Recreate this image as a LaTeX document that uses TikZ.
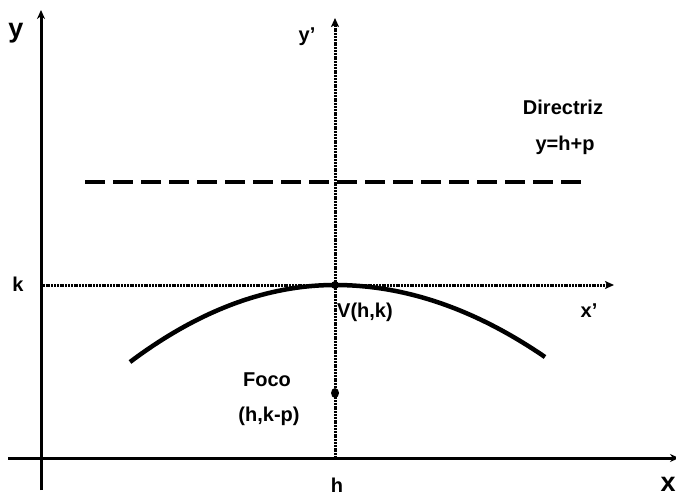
\documentclass[tikz,border=0pt]{standalone}
\usepackage{fontspec}
\setmainfont{Liberation Sans}
\usetikzlibrary{arrows.meta,shapes.geometric}
\begin{document}
\begin{tikzpicture}[x=1pt,y=-1pt,
  axis/.style={line width=3pt,-{Stealth[length=9pt,width=8pt]}},
  dotaxis/.style={line width=3pt,dash pattern=on 2pt off 0.8pt,-{Stealth[length=9pt,width=8pt,inset=2pt]}},
  dir/.style={line width=4pt,dash pattern=on 20pt off 8pt},
  curve/.style={line width=4.5pt},
  lbl/.style={font=\bfseries\fontsize{20}{22}\selectfont,inner sep=0pt},
  big/.style={font=\bfseries\fontsize{27}{29}\selectfont,inner sep=0pt}]
\useasboundingbox (0,0) rectangle (676,497);
% axis end points
\coordinate (ybot) at (41,490);
\coordinate (ytop) at (41,10);
\coordinate (xl) at (8,458);
\coordinate (xr) at (679,458);
\coordinate (ypbot) at (335,458);
\coordinate (yptop) at (335,18);
\coordinate (xpl) at (40,285);
\coordinate (xpr) at (614,285);
\coordinate (dl) at (85,182);
\coordinate (dr) at (582,182);
\coordinate (V) at (335,285);
\coordinate (L) at (130,362);
\coordinate (R) at (545,357);
% axes
\draw[axis] (ybot) -- (ytop);
\draw[axis] (xl) -- (xr);
\draw[dotaxis] (ypbot) -- (yptop);
\draw[dotaxis] (xpl) -- (xpr);
% directrix
\draw[dir] (dl) -- (dr);
% parabola
\draw[curve] (L) .. controls (198.3,310.7) and (266.7,285) .. (V)
  .. controls (405,285) and (475,309) .. (R);
% focus
\node[fill=black,ellipse,minimum width=8pt,minimum height=10pt,inner sep=0pt] (F) at (335,393) {};
\fill (V) circle (4pt);
% labels
\node[big] (ly) at (16,33) {y};
\node[big] (lx) at (668,484) {x};
\node[lbl] (lyp) at (307,37) {y’};
\node[lbl] (lxp) at (589,311) {x’};
\node[lbl] (lk) at (18,284) {k};
\node[lbl] (lh) at (337,485) {h};
\node[lbl,anchor=west] (lV) at (337,312) {V(h,k)};
\node[lbl] (lF) at (267,380) {Foco};
\node[lbl] (lFc) at (269,416) {(h,k-p)};
\node[lbl] (lD) at (563,107) {Directriz};
\node[lbl] (lDe) at (565,145) {y=h+p};
\end{tikzpicture}
\end{document}
